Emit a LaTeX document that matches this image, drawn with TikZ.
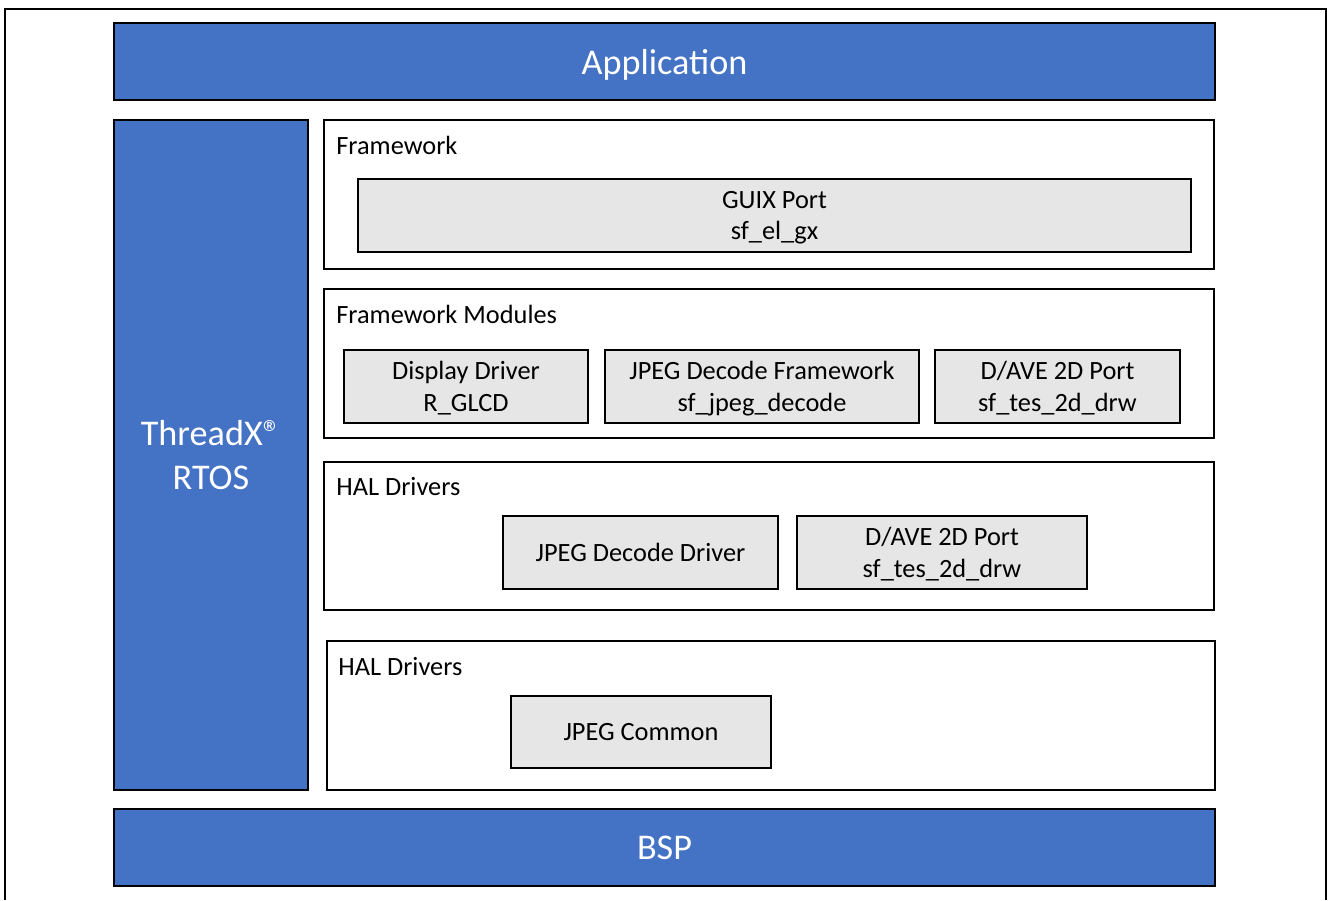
\documentclass[tikz,border=0pt]{standalone}
\usepackage{fontspec}
\setmainfont{Carlito}
\definecolor{appblue}{HTML}{4472C4}
\definecolor{modgrey}{HTML}{E7E6E6}
\def\px{0.02cm}
\tikzset{
  layer/.style={draw=black, line width=1.6pt, fill=appblue, text=white, inner sep=0pt,
    outer sep=0pt, anchor=north west, align=center, text depth=0pt,
    font=\fontsize{20.6}{25.5}\selectfont},
  group/.style={draw=black, line width=1.6pt, fill=white, inner sep=0pt, outer sep=0pt,
    anchor=north west},
  module/.style={draw=black, line width=1.6pt, fill=modgrey, inner sep=0pt, outer sep=0pt,
    anchor=north west, align=center, text depth=0pt, font=\fontsize{15}{18}\selectfont},
  caption/.style={anchor=west, inner sep=0pt, font=\fontsize{15}{18}\selectfont}
}

\begin{document}
\begin{tikzpicture}[x=0.02cm, y=-0.02cm]

        \useasboundingbox (0,0) rectangle (1328,900);
        \draw[line width=1.1pt] (5,900) -- (5,9) -- (1326,9) -- (1326,900);

        % blue layers
        \node[layer, minimum width=1101*\px, minimum height=77*\px] (app) at (114,23) {Application};
        \node[layer, minimum width=194*\px, minimum height=670*\px] (rtos) at (114,120) {ThreadX®\\RTOS};
        \node[layer, minimum width=1101*\px, minimum height=77*\px] (bsp) at (114,809) {BSP};

        % groups
        \node[group, minimum width=890*\px, minimum height=149*\px] (fw) at (324,120) {};
        \node[group, minimum width=890*\px, minimum height=149*\px] (fwm) at (324,289) {};
        \node[group, minimum width=890*\px, minimum height=148*\px] (hal) at (324,462) {};
        \node[group, minimum width=888*\px, minimum height=149*\px] (halc) at (327,641) {};

        \node[caption] (fwlabel) at (336,145) {Framework};
        \node[caption] (fwmlabel) at (336,314) {Framework Modules};
        \node[caption] (hallabel) at (336,487) {HAL Drivers};
        \node[caption] (halclabel) at (338,667) {HAL Drivers};

        % modules
        \node[module, minimum width=833*\px, minimum height=73*\px] (guix) at (358,179) {GUIX Port\\sf\_el\_gx};
        \node[module, minimum width=244*\px, minimum height=73*\px] (glcd) at (344,350) {Display Driver\\R\_GLCD};
        \node[module, minimum width=314*\px, minimum height=73*\px] (jpegfw) at (605,350) {JPEG Decode Framework\\sf\_jpeg\_decode};
        \node[module, minimum width=245*\px, minimum height=73*\px] (dave) at (935,350) {D/AVE 2D Port\\sf\_tes\_2d\_drw};
        \node[module, minimum width=275*\px, minimum height=73*\px] (jpegdrv) at (503,516) {JPEG Decode Driver};
        \node[module, minimum width=290*\px, minimum height=73*\px] (davehal) at (797,516) {D/AVE 2D Port\\sf\_tes\_2d\_drw};
        \node[module, minimum width=260*\px, minimum height=72*\px] (jpegcom) at (511,696) {JPEG Common};

      \end{tikzpicture}
\end{document}
